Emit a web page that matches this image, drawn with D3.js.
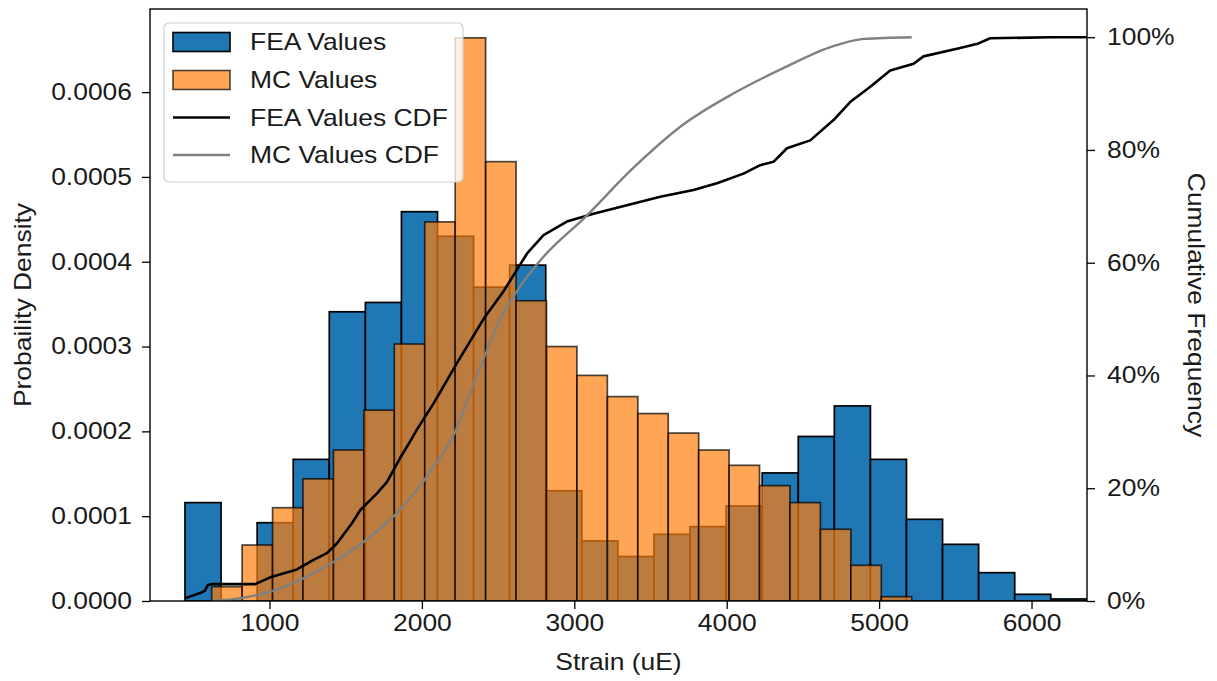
<!DOCTYPE html>
<html>
<head>
<meta charset="utf-8">
<script src="https://cdn.jsdelivr.net/npm/d3@7"></script>
<style>
  html, body { margin: 0; padding: 0; background: #fff; }
  svg text { font-family: "Liberation Sans", Arial, Helvetica, sans-serif; fill: #1a1a1a; }
</style>
</head>
<body>
<svg id="chart" width="1217" height="681"></svg>
<script>
// Histogram bins: equal-width bins starting at the given edge (strain in uE)
const feaBinStart = 445.6;
const feaBinWidth = 236.7;
const feaDensity = [
  0.000116, 0, 0.0000923, 0.000167, 0.000341, 0.000352, 0.000459, 0.000430,
  0.000370, 0.000396, 0.000130, 0.0000708, 0.0000525, 0.0000786, 0.0000877,
  0.000112, 0.000151, 0.000194, 0.000230, 0.000167, 0.0000963, 0.0000668,
  0.0000334, 0.0000079, 0.0000024
];

const mcBinStart = 620.8;
const mcBinWidth = 199.7;
const mcDensity = [
  0.0000169, 0.0000660, 0.000110, 0.000144, 0.000178, 0.000225, 0.000303,
  0.000447, 0.000664, 0.000518, 0.000354, 0.000300, 0.000266, 0.000241,
  0.000221, 0.000198, 0.000178, 0.000160, 0.000136, 0.000116, 0.0000846,
  0.0000421, 0.0000051
];

// Empirical cumulative curves: [strain, cumulative fraction]
const feaCdf = [
  [447, 0.005], [500, 0.010], [545, 0.014], [575, 0.018], [595, 0.028], [621, 0.030],
  [906, 0.030], [1005, 0.042], [1180, 0.056], [1289, 0.073], [1377, 0.085],
  [1442, 0.102], [1541, 0.138], [1595, 0.161], [1705, 0.191], [1770, 0.211],
  [1858, 0.254], [1923, 0.283], [1967, 0.304], [2076, 0.350], [2230, 0.422],
  [2404, 0.500], [2535, 0.549], [2689, 0.616], [2798, 0.649], [2951, 0.673],
  [3126, 0.687], [3345, 0.702], [3564, 0.717], [3782, 0.729], [3936, 0.741],
  [4110, 0.758], [4220, 0.773], [4307, 0.779], [4395, 0.803], [4548, 0.817],
  [4701, 0.853], [4810, 0.885], [4942, 0.912], [5073, 0.941], [5226, 0.953],
  [5291, 0.966], [5532, 0.981], [5652, 0.989], [5729, 0.998], [6123, 1.0], [6363, 1.0]
];

const mcCdf = [
  [621, 0], [760, 0.003], [893, 0.009], [1050, 0.020], [1221, 0.040], [1444, 0.073],
  [1661, 0.114], [1858, 0.162], [2074, 0.237], [2218, 0.300], [2317, 0.370],
  [2428, 0.445], [2514, 0.500], [2625, 0.550], [2796, 0.610], [3072, 0.681],
  [3387, 0.768], [3715, 0.845], [4043, 0.900], [4371, 0.945], [4699, 0.984],
  [4900, 0.997], [5214, 1.0]
];

const xTicks = [1000, 2000, 3000, 4000, 5000, 6000];
const densityTicks = [0, 0.0001, 0.0002, 0.0003, 0.0004, 0.0005, 0.0006];
const cumulativeTicks = [0, 0.2, 0.4, 0.6, 0.8, 1.0];

const legendItems = [
  { label: "FEA Values", kind: "patch", color: "#1f77b4", opacity: 1 },
  { label: "MC Values", kind: "patch", color: "#ff7f0e", opacity: 0.7 },
  { label: "FEA Values CDF", kind: "line", color: "#000000" },
  { label: "MC Values CDF", kind: "line", color: "#808080" }
];

// ---- layout ----
const plot = { left: 150, right: 1087, top: 9, bottom: 601 };
const fontSize = 23;
const stretch = 1.15;   // glyphs are drawn a little wider than the stock face

const svg = d3.select("#chart");
svg.append("rect").attr("width", 1217).attr("height", 681).attr("fill", "#fff");

const x = d3.scaleLinear().domain([216, 6364]).range([plot.left, plot.right]);
const yDensity = d3.scaleLinear().domain([0, 0.000698]).range([plot.bottom, plot.top]);
const yCum = d3.scaleLinear().domain([0, 1.05]).range([plot.bottom, plot.top]);

svg.append("defs").append("clipPath").attr("id", "plotClip")
  .append("rect")
  .attr("x", plot.left).attr("y", plot.top)
  .attr("width", plot.right - plot.left).attr("height", plot.bottom - plot.top);

const bars = svg.append("g").attr("clip-path", "url(#plotClip)");

function binRects(start, width, density) {
  return density.map((d, i) => ({ x0: start + i * width, x1: start + (i + 1) * width, d }))
    .filter(b => b.d > 0);
}

bars.append("g").selectAll("rect")
  .data(binRects(feaBinStart, feaBinWidth, feaDensity))
  .join("rect")
  .attr("x", b => x(b.x0))
  .attr("width", b => x(b.x1) - x(b.x0))
  .attr("y", b => yDensity(b.d))
  .attr("height", b => yDensity(0) - yDensity(b.d))
  .attr("fill", "#1f77b4")
  .attr("stroke", "#000")
  .attr("stroke-width", 1.7);

bars.append("g").selectAll("rect")
  .data(binRects(mcBinStart, mcBinWidth, mcDensity))
  .join("rect")
  .attr("x", b => x(b.x0))
  .attr("width", b => x(b.x1) - x(b.x0))
  .attr("y", b => yDensity(b.d))
  .attr("height", b => yDensity(0) - yDensity(b.d))
  .attr("fill", "#ff7f0e")
  .attr("fill-opacity", 0.7)
  .attr("stroke", "#000")
  .attr("stroke-opacity", 0.7)
  .attr("stroke-width", 1.7);

// ---- cumulative curves on the secondary axis ----
const lines = svg.append("g").attr("clip-path", "url(#plotClip)");
lines.append("path")
  .datum(feaCdf)
  .attr("d", d3.line().x(d => x(d[0])).y(d => yCum(d[1])))
  .attr("fill", "none")
  .attr("stroke", "#000")
  .attr("stroke-width", 2.6)
  .attr("stroke-linejoin", "round");

lines.append("path")
  .datum(mcCdf)
  .attr("d", d3.line().curve(d3.curveMonotoneX).x(d => x(d[0])).y(d => yCum(d[1])))
  .attr("fill", "none")
  .attr("stroke", "#808080")
  .attr("stroke-width", 2.4);

// ---- axes ----
function styleAxis(g, anchorX) {
  g.selectAll(".domain").remove();
  g.selectAll(".tick line").attr("stroke", "#000").attr("stroke-width", 1.3);
  g.selectAll(".tick text")
    .attr("font-size", fontSize).attr("fill", "#1a1a1a")
    .attr("font-family", "'Liberation Sans', Arial, sans-serif")
    .attr("x", anchorX / stretch)
    .attr("transform", `scale(${stretch},1)`);
}

svg.append("g")
  .attr("transform", `translate(0,${plot.bottom})`)
  .call(d3.axisBottom(x).tickValues(xTicks).tickFormat(d3.format("d")).tickSize(8).tickPadding(6))
  .call(g => styleAxis(g, 0));

svg.append("g")
  .attr("transform", `translate(${plot.left},0)`)
  .call(d3.axisLeft(yDensity).tickValues(densityTicks).tickFormat(d3.format(".4f")).tickSize(8).tickPadding(7))
  .call(g => styleAxis(g, -18));

svg.append("g")
  .attr("transform", `translate(${plot.right},0)`)
  .call(d3.axisRight(yCum).tickValues(cumulativeTicks).tickFormat(d3.format(".0%")).tickSize(8).tickPadding(7))
  .call(g => styleAxis(g, 20));

// frame
svg.append("rect")
  .attr("x", plot.left).attr("y", plot.top)
  .attr("width", plot.right - plot.left).attr("height", plot.bottom - plot.top)
  .attr("fill", "none").attr("stroke", "#000").attr("stroke-width", 1.4);

// axis titles
function label(tx, ty, rot, text) {
  svg.append("text")
    .attr("transform", `translate(${tx},${ty}) rotate(${rot}) scale(${stretch},1)`)
    .attr("text-anchor", "middle").attr("font-size", fontSize)
    .text(text);
}
label((plot.left + plot.right) / 2, 670, 0, "Strain (uE)");
label(31, (plot.top + plot.bottom) / 2, -90, "Probaility Density");
label(1188, (plot.top + plot.bottom) / 2, 90, "Cumulative Frequency");

// ---- legend ----
const legend = svg.append("g");
legend.append("rect")
  .attr("x", 164).attr("y", 23).attr("width", 299).attr("height", 159)
  .attr("rx", 5)
  .attr("fill", "#fff").attr("fill-opacity", 0.8)
  .attr("stroke", "#d0d0d0").attr("stroke-width", 1.2);

const rowY = [42, 80, 117.5, 155];
legendItems.forEach((item, i) => {
  const cy = rowY[i];
  if (item.kind === "patch") {
    legend.append("rect")
      .attr("x", 173).attr("y", cy - 9.5).attr("width", 57).attr("height", 19)
      .attr("fill", item.color).attr("fill-opacity", item.opacity)
      .attr("stroke", "#000").attr("stroke-opacity", item.opacity).attr("stroke-width", 1.6);
  } else {
    legend.append("line")
      .attr("x1", 173).attr("x2", 230).attr("y1", cy).attr("y2", cy)
      .attr("stroke", item.color).attr("stroke-width", 2.6);
  }
  legend.append("text")
    .attr("transform", `translate(250,${cy + 8.2}) scale(${stretch},1)`)
    .attr("font-size", fontSize)
    .text(item.label);
});
</script>
</body>
</html>
